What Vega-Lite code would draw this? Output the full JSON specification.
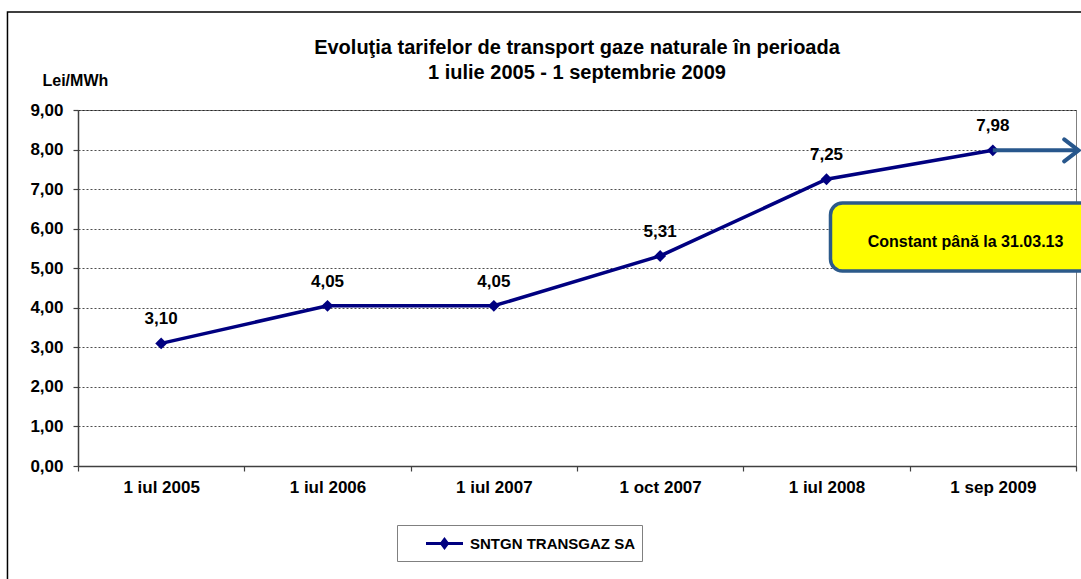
{
  "$schema": "https://vega.github.io/schema/vega-lite/v6.json",
  "width": 998,
  "height": 356,
  "autosize": {"type": "none"},
  "padding": {"left": 78, "top": 110, "right": 5, "bottom": 113},
  "background": "white",
  "title": {
    "text": ["Evoluţia tarifelor de transport gaze naturale în perioada", "1 iulie 2005 - 1 septembrie 2009"],
    "font": "Liberation Sans",
    "fontSize": 20,
    "fontWeight": "bold",
    "color": "#000000",
    "anchor": "middle",
    "frame": "group",
    "offset": -72,
    "lineHeight": 25
  },
  "config": {
    "font": "Liberation Sans",
    "locale": {"number": {"decimal": ",", "thousands": ".", "grouping": [3], "currency": ["", ""]}},
    "view": {"stroke": "#808080", "strokeWidth": 1}
  },
  "encoding": {
    "y": {
      "field": "valoare", "type": "quantitative",
      "scale": {"domain": [0, 9], "nice": false, "zero": true},
      "axis": {
        "title": "Lei/MWh", "titleAngle": 0, "titleX": -36, "titleY": -25,
        "titleAlign": "left", "titleBaseline": "alphabetic",
        "titleFont": "Liberation Sans", "titleFontSize": 16, "titleFontWeight": "bold", "titleColor": "#000000",
        "values": [0, 1, 2, 3, 4, 5, 6, 7, 8, 9], "format": ".2f", "labelOverlap": false,
        "labelFont": "Liberation Sans", "labelFontSize": 17, "labelFontWeight": "bold", "labelColor": "#000000",
        "labelPadding": 10, "tickSize": 5, "tickColor": "#404040", "tickWidth": 1.2,
        "domainColor": "#404040", "domainWidth": 1.5,
        "grid": true, "gridColor": "#000000", "gridDash": [2, 2], "gridWidth": 0.7
      }
    }
  },
  "layer": [
    {
      "data": {
        "values": [
          {"data": "1 iul 2005", "valoare": 3.10, "serie": "SNTGN TRANSGAZ SA"},
          {"data": "1 iul 2006", "valoare": 4.05, "serie": "SNTGN TRANSGAZ SA"},
          {"data": "1 iul 2007", "valoare": 4.05, "serie": "SNTGN TRANSGAZ SA"},
          {"data": "1 oct 2007", "valoare": 5.31, "serie": "SNTGN TRANSGAZ SA"},
          {"data": "1 iul 2008", "valoare": 7.25, "serie": "SNTGN TRANSGAZ SA"},
          {"data": "1 sep 2009", "valoare": 7.98, "serie": "SNTGN TRANSGAZ SA"}
        ]
      },
      "layer": [
        {
          "mark": {"type": "line", "strokeWidth": 3.5},
          "encoding": {
            "x": {
              "field": "data", "type": "nominal", "sort": null, "bandPosition": 0.5,
              "scale": {"type": "band", "paddingInner": 0, "paddingOuter": 0},
              "axis": {
                "title": null, "labelAngle": 0, "tickBand": "extent",
                "labelFont": "Liberation Sans", "labelFontSize": 17, "labelFontWeight": "bold", "labelColor": "#000000",
                "labelPadding": 8, "tickSize": 5, "tickColor": "#404040", "tickWidth": 1.2,
                "domainColor": "#404040", "domainWidth": 1.5, "grid": false
              }
            },
            "color": {
              "field": "serie", "type": "nominal",
              "scale": {"range": ["#000080"]},
              "legend": {
                "orient": "none", "legendX": 319, "legendY": 415, "title": null,
                "padding": 7, "strokeColor": "#808080", "fillColor": "#ffffff",
                "labelFont": "Liberation Sans", "labelFontSize": 15, "labelFontWeight": "bold", "labelColor": "#000000",
                "labelLimit": 400,
                "symbolType": "M-1.85,0L1.85,0M-0.3,0L0,-0.4L0.3,0L0,0.4Z",
                "symbolSize": 400, "symbolStrokeWidth": 3, "symbolOffset": 29, "labelOffset": 14,
                "encode": {"symbols": {"update": {"fill": {"value": "#000080"}, "stroke": {"value": "#000080"}, "strokeWidth": {"value": 3}}}}
              }
            }
          }
        },
        {
          "mark": {"type": "point", "shape": "diamond", "filled": true, "size": 140, "opacity": 1},
          "encoding": {
            "x": {"field": "data", "type": "nominal", "sort": null, "bandPosition": 0.5},
            "color": {"field": "serie", "type": "nominal", "legend": null}
          }
        },
        {
          "mark": {"type": "text", "dy": -24, "baseline": "middle", "align": "center", "fontSize": 17, "fontWeight": "bold", "font": "Liberation Sans", "color": "#000000"},
          "encoding": {
            "x": {"field": "data", "type": "nominal", "sort": null, "bandPosition": 0.5},
            "text": {"field": "valoare", "type": "quantitative", "format": ".2f"}
          }
        }
      ]
    },
    {
      "layer": [
        {
          "data": {"values": [{"x1": -0.924, "x2": 6.3, "valoare": 11.48, "valoare2": -4}]},
          "mark": {"type": "rect", "fill": "transparent", "stroke": "#000000", "strokeWidth": 1.5},
          "encoding": {
            "x": {"field": "x1", "type": "quantitative", "scale": {"domain": [-0.5, 5.5], "nice": false, "zero": false}, "axis": null},
            "x2": {"field": "x2"},
            "y2": {"field": "valoare2"}
          }
        },
        {
          "data": {"values": [{"x1": 5, "x2": 5.5, "valoare": 7.98}]},
          "mark": {"type": "rule", "stroke": "#28578C", "strokeWidth": 4},
          "encoding": {
            "x": {"field": "x1", "type": "quantitative", "axis": null},
            "x2": {"field": "x2"}
          }
        },
        {
          "data": {"values": [{"x": 5.515, "valoare": 7.98}]},
          "mark": {"type": "point", "shape": "M-1.3,-1L0,0L-1.3,1", "filled": false, "stroke": "#28578C", "strokeWidth": 4, "size": 484, "opacity": 1, "strokeCap": "round", "strokeJoin": "miter"},
          "encoding": {
            "x": {"field": "x", "type": "quantitative", "axis": null}
          }
        },
        {
          "data": {"values": [{"x1": 4.024, "x2": 6.15, "valoare": 6.65, "valoare2": 4.93}]},
          "mark": {"type": "rect", "fill": "#FFFF00", "stroke": "#2C5A8A", "strokeWidth": 3.5, "cornerRadius": 12},
          "encoding": {
            "x": {"field": "x1", "type": "quantitative", "axis": null},
            "x2": {"field": "x2"},
            "y2": {"field": "valoare2"}
          }
        },
        {
          "data": {"values": [{"x": 4.836, "valoare": 5.66, "text": "Constant până la 31.03.13"}]},
          "mark": {"type": "text", "align": "center", "baseline": "middle", "font": "Liberation Sans", "fontSize": 16, "fontWeight": "bold", "color": "#000000"},
          "encoding": {
            "x": {"field": "x", "type": "quantitative", "axis": null},
            "text": {"field": "text", "type": "nominal"}
          }
        }
      ]
    }
  ],
  "resolve": {"scale": {"x": "independent"}}
}
